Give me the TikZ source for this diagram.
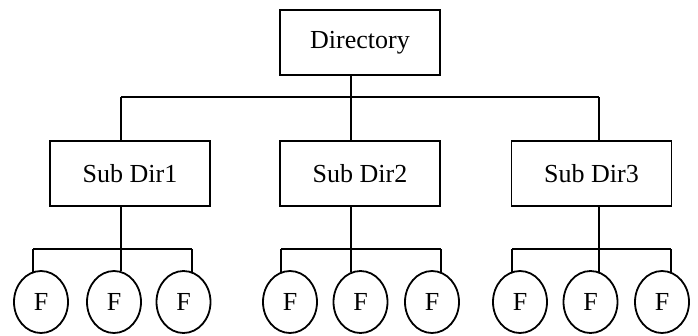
\documentclass[tikz,border=0pt]{standalone}
\usepackage{fontspec}
\setmainfont{Liberation Serif}
\usetikzlibrary{shapes.geometric}
\begin{document}
\begin{tikzpicture}[x=1pt,y=-1pt,
  every path/.style={line width=1.8pt},
  dirbox/.style={draw, line width=1.8pt, minimum width=160pt, minimum height=65pt,
    inner sep=0pt, font=\fontsize{26}{30}\selectfont},
  filenode/.style={draw, ellipse, line width=1.8pt, minimum width=54pt, minimum height=62pt,
    inner sep=0pt, font=\fontsize{26}{30}\selectfont}]
\useasboundingbox (0,0) rectangle (698,335);

% directories
\node[dirbox] (dir) at (360,42.5) {Directory};
\node[dirbox] (s1) at (130,173.5) {Sub Dir1};
\node[dirbox] (s2) at (360,173.5) {Sub Dir2};
\node[dirbox] (s3) at (591.5,173.5) {Sub Dir3};

% files
\foreach \n/\x in {11/41,12/114,13/183.5,21/290,22/360.5,23/432,31/520,32/590.5,33/662}
  \node[filenode] (f\n) at (\x,302) {F};

% branch points
\coordinate (trunk) at (351,97);
\coordinate (t1) at (121,97);
\coordinate (t3) at (599,97);
\coordinate (b1) at (121,249);
\coordinate (b2) at (351,249);
\coordinate (b3) at (599,249);
\coordinate (b1l) at (33,249);  \coordinate (b1r) at (192,249);
\coordinate (b2l) at (281,249); \coordinate (b2r) at (441,249);
\coordinate (b3l) at (512,249); \coordinate (b3r) at (671,249);

% top level
\draw (dir.south -| trunk) -- (s2.north -| trunk);
\draw (t1) -- (t3);
\draw (t1) -- (s1.north -| t1);
\draw (t3) -- (s3.north -| t3);

% second level
\draw (s1.south -| b1) -- (b1);
\draw (s2.south -| b2) -- (b2);
\draw (s3.south -| b3) -- (b3);
\draw (b1l) -- (b1r);
\draw (b2l) -- (b2r);
\draw (b3l) -- (b3r);

% drops to files
\draw (b1l) -- (b1l |- f11.105);
\draw (b1)  -- (b1  |- f12.77);
\draw (b1r) -- (b1r |- f13.73);
\draw (b2l) -- (b2l |- f21.108);
\draw (b2)  -- (b2  |- f22.106);
\draw (b2r) -- (b2r |- f23.72);
\draw (b3l) -- (b3l |- f31.105);
\draw (b3)  -- (b3  |- f32.73);
\draw (b3r) -- (b3r |- f33.72);
\end{tikzpicture}
\end{document}
